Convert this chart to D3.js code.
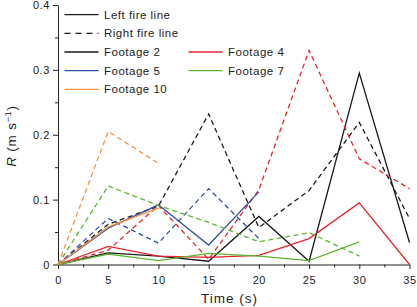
<!DOCTYPE html>
<html>
<head>
<meta charset="utf-8">
<script src="https://cdn.jsdelivr.net/npm/d3@7"></script>
<style>
  body { margin: 0; background: #fff; }
  text { font-family: "Liberation Sans", Arial, sans-serif; fill: #222; }
</style>
</head>
<body>
<div id="chart-area"></div>
<script>
// Data
const times = [0, 5, 10, 15, 20, 25, 30, 35]
const f2Left = [0, 0.018, 0.013, 0.005, 0.074, 0.005, 0.295, 0.034]
const f2Right = [0, 0.062, 0.09, 0.232, 0.057, 0.114, 0.219, 0.071]
const f4Left = [0, 0.028, 0.013, 0.011, 0.014, 0.04, 0.095, 0]
const f4Right = [0, 0.022, 0.091, 0.008, 0.115, 0.33, 0.163, 0.117]
const f5Left = [0, 0.056, 0.092, 0.03, 0.112]
const f5Right = [0, 0.071, 0.033, 0.117, 0.04]
const f7Left = [0, 0.016, 0.006, 0.017, 0.013, 0.006, 0.035]
const f7Right = [0, 0.121, 0.091, 0.065, 0.035, 0.049, 0.013]
const f10Left = [0, 0.058, 0.087]
const f10Right = [0, 0.205, 0.156]

const yTicks = [0, 0.1, 0.2, 0.3, 0.4]
const yMinor = [0.05, 0.15, 0.25, 0.35]
const xTicks = [0, 5, 10, 15, 20, 25, 30, 35]
const xMinor = [2.5, 7.5, 12.5, 17.5, 22.5, 27.5, 32.5]

const colors = {f2: "#1a1a1a", f4: "#e8262d", f5: "#3050a8", f7: "#5db52f", f10: "#f5923e"}
const dash = "5,3.5"

const series = [
  {name: "Footage 2", values: f2Left, color: colors.f2, dashed: false},
  {name: "Footage 2", values: f2Right, color: colors.f2, dashed: true},
  {name: "Footage 4", values: f4Left, color: colors.f4, dashed: false},
  {name: "Footage 4", values: f4Right, color: colors.f4, dashed: true},
  {name: "Footage 5", values: f5Left, color: colors.f5, dashed: false},
  {name: "Footage 5", values: f5Right, color: colors.f5, dashed: true},
  {name: "Footage 7", values: f7Left, color: colors.f7, dashed: false},
  {name: "Footage 7", values: f7Right, color: colors.f7, dashed: true},
  {name: "Footage 10", values: f10Left, color: colors.f10, dashed: false},
  {name: "Footage 10", values: f10Right, color: colors.f10, dashed: true}
]

// Config
const margin = {top: 5, right: 7.5, bottom: 42.5, left: 58}
const width = 417 - margin.left - margin.right, height = 307 - margin.top - margin.bottom

const svg = d3.select("#chart-area")
  .append("svg")
    .attr("width", 417)
    .attr("height", 307)
const g = svg.append("g")
    .attr("transform", "translate(" + margin.left + ", " + margin.top + ")")

// Scales
const x = d3.scaleLinear().domain([0, 35]).range([0, width])
const y = d3.scaleLinear().domain([0, 0.4]).range([height, 0])

// Axis
const yMinorAxis = g.append("g").call(d3.axisLeft(y).tickValues(yMinor).tickSize(3).tickFormat(""))
const xMinorAxis = g.append("g").attr("transform", "translate(0, " + height + ")")
  .call(d3.axisBottom(x).tickValues(xMinor).tickSize(3).tickFormat(""))
const y_axis = g.append("g").call(d3.axisLeft(y).tickValues(yTicks).tickSize(5).tickSizeOuter(0)
  .tickPadding(3).tickFormat(d => d === 0 ? "0" : d3.format(".1f")(d)))
const x_axis = g.append("g").attr("transform", "translate(0, " + height + ")")
  .call(d3.axisBottom(x).tickValues(xTicks).tickSize(4.5).tickSizeOuter(0).tickPadding(7))

g.selectAll(".domain, .tick line").attr("stroke", "#222").attr("stroke-width", 1)
xMinorAxis.select(".domain").remove()
yMinorAxis.select(".domain").remove()
g.selectAll(".tick text").style("font-size", "11px").attr("fill", "#222")
  .style("letter-spacing", "0.6px")
  .style("font-family", "'Liberation Sans', Arial, sans-serif")

// Lines
const line = d3.line()
  .x((d, i) => x(times[i]))
  .y(d => y(d))

g.selectAll(".series")
  .data(series)
  .enter().append("path")
    .attr("class", "series")
    .attr("fill", "none")
    .attr("stroke", d => d.color)
    .attr("stroke-width", 1.3)
    .attr("stroke-dasharray", d => d.dashed ? dash : null)
    .attr("stroke-linejoin", "miter")
    .attr("d", d => line(d.values))

// Axis labels
const yLabel = svg.append("text")
  .attr("transform", "translate(15.5, 136) rotate(-90)")
  .attr("text-anchor", "middle")
  .style("font-size", "13.5px")
  .style("letter-spacing", "0.8px")
yLabel.append("tspan").style("font-style", "italic").text("R")
yLabel.append("tspan").text(" (m s")
yLabel.append("tspan").attr("dy", "-5").style("font-size", "9px").text("\u22121")
yLabel.append("tspan").attr("dy", "5").text(")")

svg.append("text")
  .attr("x", 229.5)
  .attr("y", 302.5)
  .attr("text-anchor", "middle")
  .style("font-size", "13.5px")
  .style("letter-spacing", "1px")
  .text("Time (s)")

// Legend
const legendItems = [
  {label: "Left fire line", color: colors.f2, dashed: false, col: 0, row: 0},
  {label: "Right fire line", color: colors.f2, dashed: true, col: 0, row: 1},
  {label: "Footage 2", color: colors.f2, dashed: false, col: 0, row: 2},
  {label: "Footage 4", color: colors.f4, dashed: false, col: 1, row: 2},
  {label: "Footage 5", color: colors.f5, dashed: false, col: 0, row: 3},
  {label: "Footage 7", color: colors.f7, dashed: false, col: 1, row: 3},
  {label: "Footage 10", color: colors.f10, dashed: false, col: 0, row: 4}
]
const legendX = [64.5, 188.5], legendY0 = 14.7, legendStep = 18.65

const legend = svg.append("g").selectAll("g")
  .data(legendItems)
  .enter().append("g")
    .attr("transform", d => "translate(" + legendX[d.col] + ", " + (legendY0 + d.row * legendStep) + ")")

legend.append("line")
  .attr("x1", 0).attr("x2", 34)
  .attr("stroke", d => d.color)
  .attr("stroke-width", 1.3)
  .attr("stroke-dasharray", d => d.dashed ? "6,5" : null)

legend.append("text")
  .attr("x", 39.5)
  .attr("dy", "0.36em")
  .style("font-size", "11.5px")
  .style("letter-spacing", "0.5px")
  .text(d => d.label)
</script>
</body>
</html>
